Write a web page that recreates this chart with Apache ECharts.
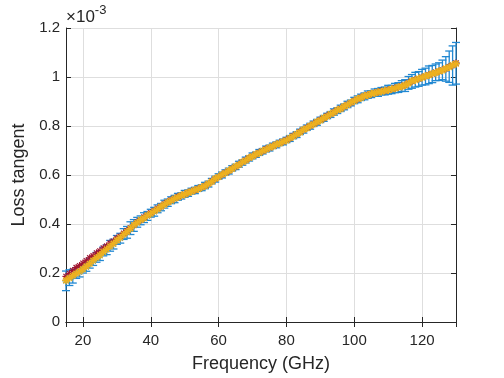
<!DOCTYPE html>
<html><head><meta charset="utf-8">
<script src="https://cdn.jsdelivr.net/npm/echarts@6/dist/echarts.min.js"></script>
<style>html,body{margin:0;padding:0;background:#fff}#c{width:504px;height:378px}</style>
</head><body><div id="c"></div>
<script>
// Frequency samples (GHz)
const freq = [15,16,17,18,19,20,21,22,23,24,25,26,27,28,29,30,31,32,33,34,35,36,37,38,39,40,41,42,43,44,45,46,47,48,49,50,51,52,53,54,55,56,57,58,59,60,61,62,63,64,65,66,67,68,69,70,71,72,73,74,75,76,77,78,79,80,81,82,83,84,85,86,87,88,89,90,91,92,93,94,95,96,97,98,99,100,101,102,103,104,105,106,107,108,109,110,111,112,113,114,115,116,117,118,119,120,121,122,123,124,125,126,127,128,129,130];
// Loss tangent (x1e-3), blue series with error bars
const blueVals = [
0.168,0.181,0.187,0.200,0.204,0.218,0.225,0.240,0.249,0.264,
0.271,0.288,0.295,0.311,0.318,0.335,0.342,0.359,0.366,0.383,
0.394,0.407,0.415,0.426,0.433,0.444,0.450,0.462,0.469,0.481,
0.487,0.497,0.502,0.511,0.515,0.523,0.526,0.534,0.537,0.545,
0.548,0.557,0.563,0.575,0.583,0.594,0.600,0.610,0.616,0.627,
0.633,0.644,0.651,0.661,0.668,0.678,0.683,0.692,0.697,0.706,
0.710,0.719,0.723,0.731,0.735,0.743,0.749,0.759,0.765,0.776,
0.783,0.793,0.799,0.809,0.815,0.825,0.831,0.841,0.847,0.857,
0.863,0.872,0.878,0.888,0.894,0.904,0.909,0.917,0.921,0.928,
0.930,0.936,0.937,0.942,0.943,0.948,0.949,0.955,0.957,0.963,
0.965,0.976,0.982,0.989,0.992,0.999,1.002,1.009,1.012,1.019,
1.022,1.029,1.033,1.042,1.047,1.056];
const blueErr = [
0.040,0.032,0.028,0.022,0.020,0.018,0.018,0.020,0.018,0.020,
0.020,0.018,0.020,0.022,0.020,0.018,0.020,0.022,0.024,0.026,
0.024,0.020,0.018,0.020,0.018,0.016,0.018,0.016,0.015,0.016,
0.015,0.014,0.015,0.014,0.013,0.014,0.013,0.012,0.013,0.012,
0.012,0.013,0.012,0.011,0.012,0.011,0.012,0.011,0.012,0.011,
0.011,0.012,0.011,0.012,0.011,0.012,0.011,0.012,0.011,0.012,
0.012,0.011,0.012,0.011,0.012,0.011,0.012,0.011,0.012,0.011,
0.012,0.011,0.012,0.011,0.012,0.011,0.012,0.011,0.012,0.013,
0.012,0.013,0.012,0.013,0.012,0.013,0.014,0.013,0.014,0.015,
0.014,0.015,0.016,0.015,0.016,0.018,0.017,0.019,0.020,0.022,
0.024,0.026,0.028,0.030,0.030,0.032,0.034,0.036,0.035,0.034,
0.036,0.040,0.050,0.064,0.080,0.085];
const redVals = [
0.186,0.198,0.210,0.222,0.230,0.240,0.250,0.262,0.270,0.282,
0.290,0.302,0.310,0.322,0.330,0.342,0.350,0.362,0.372,0.384,
0.396,0.408,0.416,0.428,0.436,0.446,0.454,0.464,0.472,0.482,
0.490,0.498,0.504,0.512,0.516,0.522,0.528,0.534,0.538,0.544,
0.550,0.556,0.564,0.575,0.584,0.593,0.601,0.610,0.617,0.626,
0.634,0.643,0.652,0.661,0.669,0.677,0.684,0.692,0.698,0.706,
0.711,0.718,0.724,0.731,0.736,0.743,0.750,0.759,0.766,0.776,
0.784,0.793,0.800,0.809,0.816,0.825,0.832,0.841,0.848,0.857,
0.864,0.872,0.879,0.888,0.895,0.903,0.910,0.917,0.922,0.928,
0.931,0.936,0.938,0.942,0.944,0.948,0.950,0.955,0.958,0.963,
0.966,0.976,0.983,0.989,0.993,0.999,1.003,1.009,1.013,1.019,
1.023,1.029,1.034,1.042,1.048,1.057];
const yellowVals = [
0.170,0.179,0.189,0.198,0.206,0.216,0.227,0.238,0.251,0.262,
0.273,0.286,0.297,0.309,0.320,0.333,0.344,0.357,0.368,0.381,
0.396,0.405,0.417,0.424,0.435,0.442,0.452,0.460,0.471,0.479,
0.489,0.495,0.504,0.509,0.517,0.521,0.528,0.532,0.539,0.543,
0.550,0.555,0.565,0.573,0.585,0.592,0.602,0.608,0.618,0.625,
0.635,0.642,0.653,0.659,0.670,0.676,0.685,0.690,0.699,0.704,
0.712,0.717,0.725,0.729,0.737,0.741,0.751,0.757,0.767,0.774,
0.785,0.791,0.801,0.807,0.817,0.823,0.833,0.839,0.849,0.855,
0.865,0.870,0.880,0.886,0.896,0.902,0.911,0.915,0.923,0.926,
0.932,0.934,0.939,0.940,0.945,0.946,0.951,0.953,0.959,0.961,
0.967,0.974,0.984,0.987,0.994,0.997,1.004,1.007,1.014,1.017,
1.024,1.027,1.035,1.040,1.049,1.054];
const yTicks = ['0','0.2','0.4','0.6','0.8','1','1.2'];

const TXT = '#262626';
const FONT = 'Liberation Sans, Arial, Helvetica, sans-serif';

function star(color, lw, r) {
  return function (params, api) {
    const p = api.coord([api.value(0), api.value(1)]);
    const d = r * 0.72;
    const st = { stroke: color, lineWidth: lw };
    return { type: 'group', children: [
      { type: 'line', shape: { x1: p[0] - r, y1: p[1], x2: p[0] + r, y2: p[1] }, style: st },
      { type: 'line', shape: { x1: p[0], y1: p[1] - r, x2: p[0], y2: p[1] + r }, style: st },
      { type: 'line', shape: { x1: p[0] - d, y1: p[1] - d, x2: p[0] + d, y2: p[1] + d }, style: st },
      { type: 'line', shape: { x1: p[0] - d, y1: p[1] + d, x2: p[0] + d, y2: p[1] - d }, style: st }
    ]};
  };
}
function errBar(color) {
  return function (params, api) {
    const x = api.value(0), y = api.value(1), e = api.value(2);
    const top = api.coord([x, y + e]);
    const bot = api.coord([x, y - e]);
    const w = 4;
    const st = { stroke: color, lineWidth: 1.3 };
    return { type: 'group', children: [
      { type: 'line', shape: { x1: top[0], y1: top[1], x2: bot[0], y2: bot[1] }, style: st },
      { type: 'line', shape: { x1: top[0] - w, y1: top[1], x2: top[0] + w, y2: top[1] }, style: st },
      { type: 'line', shape: { x1: bot[0] - w, y1: bot[1], x2: bot[0] + w, y2: bot[1] }, style: st }
    ]};
  };
}

const blueData = freq.map((f, i) => [f, blueVals[i], blueErr[i]]);
const redData = freq.map((f, i) => [f, redVals[i]]);
const yellowData = freq.map((f, i) => [f, yellowVals[i]]);

const chart = echarts.init(document.getElementById('c'), null, { renderer: 'canvas' });
const axisLine = { show: true, lineStyle: { color: TXT, width: 1 } };
const splitLine = { show: true, lineStyle: { color: '#dedede', width: 1 } };
chart.setOption({
  animation: false,
  backgroundColor: '#fff',
  textStyle: { fontFamily: FONT },
  title: {
    left: 66, top: 4, padding: 0,
    text: '{a|×10}{b|-3}',
    textStyle: {
      fontWeight: 'normal',
      rich: {
        a: { fontSize: 17, fontWeight: 'normal', color: TXT, fontFamily: FONT, verticalAlign: 'bottom', lineHeight: 22 },
        b: { fontSize: 13, fontWeight: 'normal', color: TXT, fontFamily: FONT, verticalAlign: 'top', lineHeight: 22, padding: [0, 0, 8, 0] }
      }
    }
  },
  grid: { left: 66, right: 48, top: 28, bottom: 53, containLabel: false },
  xAxis: [
    { type: 'value', position: 'bottom', min: 15, max: 130, splitNumber: 6,
      name: 'Frequency (GHz)', nameLocation: 'middle', nameGap: 33,
      nameTextStyle: { color: TXT, fontSize: 18, fontFamily: FONT },
      axisLine, axisTick: { show: true, inside: true, length: 5, lineStyle: { color: TXT } },
      axisLabel: { color: TXT, fontSize: 15, fontFamily: FONT, margin: 11, showMinLabel: false, showMaxLabel: false },
      splitLine },
    { type: 'value', position: 'top', min: 15, max: 130, splitNumber: 6,
      axisLine, axisTick: { show: true, inside: true, length: 5, lineStyle: { color: TXT } },
      axisLabel: { show: false }, splitLine: { show: false } }
  ],
  yAxis: [
    { type: 'value', position: 'left', min: 0, max: 1.2, interval: 0.2,
      name: 'Loss tangent', nameLocation: 'middle', nameGap: 33,
      nameTextStyle: { color: TXT, fontSize: 18, fontFamily: FONT },
      axisLine, axisTick: { show: true, inside: true, length: 5, lineStyle: { color: TXT } },
      axisLabel: { color: TXT, fontSize: 15, fontFamily: FONT, margin: 6,
        formatter: (v) => yTicks[Math.round(v / 0.2)] },
      splitLine },
    { type: 'value', position: 'right', min: 0, max: 1.2, interval: 0.2,
      axisLine, axisTick: { show: true, inside: true, length: 5, lineStyle: { color: TXT } },
      axisLabel: { show: false }, splitLine: { show: false } }
  ],
  series: [
    { type: 'custom', name: 'err', renderItem: errBar('#2188d2'), data: blueData, clip: false, z: 2 },
    { type: 'custom', name: 'blue', renderItem: star('#2188d2', 1.2, 3.6), data: blueData, clip: false, z: 3 },
    { type: 'custom', name: 'red', renderItem: star('#A2142F', 1.2, 3.6), data: redData, clip: false, z: 4 },
    { type: 'custom', name: 'yellow', renderItem: star('#EDB120', 1.6, 3.8), data: yellowData, clip: false, z: 5 }
  ]
});
</script></body></html>
